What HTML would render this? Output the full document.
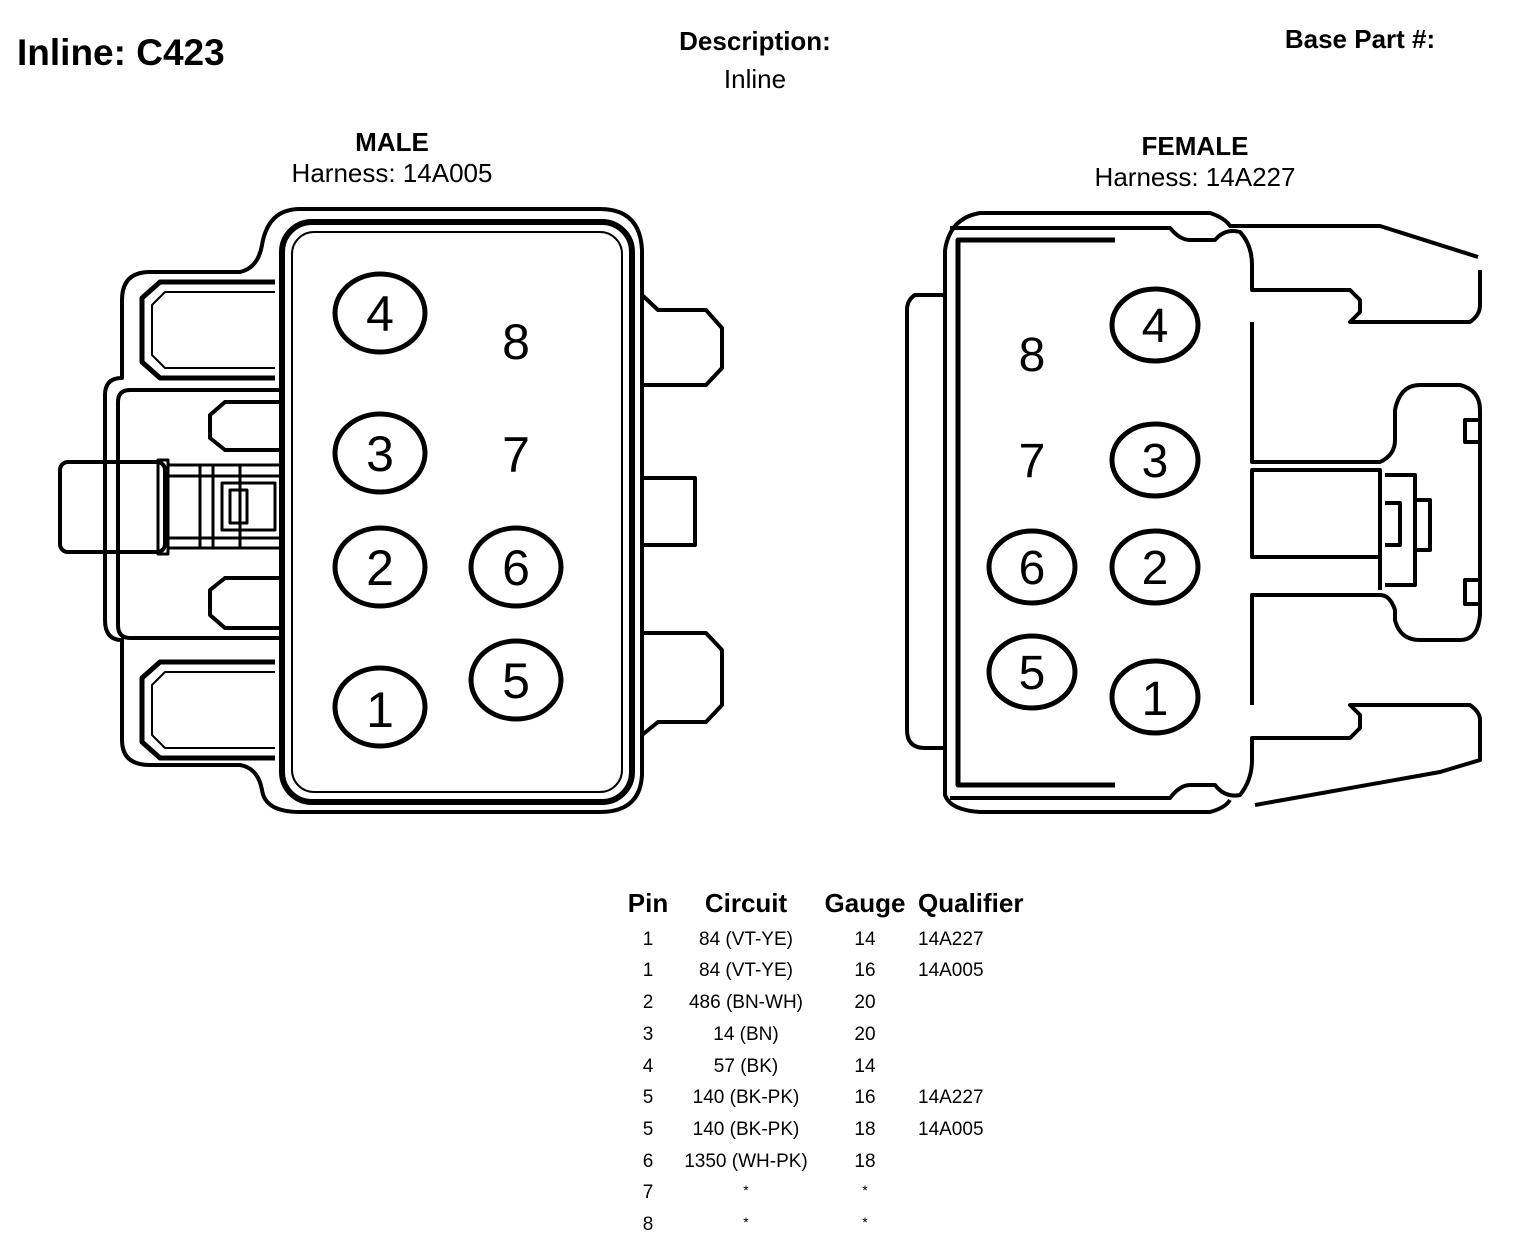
<!DOCTYPE html>
<html><head><meta charset="utf-8"><style>
body{margin:0;background:#fff;}
svg{display:block;font-family:"Liberation Sans",Arial,sans-serif;}
</style></head><body>
<svg width="1520" height="1240" viewBox="0 0 1520 1240" xmlns="http://www.w3.org/2000/svg">
<g fill="#000">
<text x="17" y="65" font-size="37" font-weight="bold">Inline: C423</text>
<text x="755" y="50" font-size="26" font-weight="bold" text-anchor="middle">Description:</text>
<text x="755" y="88" font-size="26" text-anchor="middle">Inline</text>
<text x="1360" y="48" font-size="26" font-weight="bold" text-anchor="middle">Base Part #:</text>
<text x="392" y="151" font-size="26" font-weight="bold" text-anchor="middle">MALE</text>
<text x="392" y="182" font-size="26" text-anchor="middle">Harness: 14A005</text>
<text x="1195" y="155" font-size="26" font-weight="bold" text-anchor="middle">FEMALE</text>
<text x="1195" y="186" font-size="26" text-anchor="middle">Harness: 14A227</text>
</g>

<!-- MALE -->
<g fill="none" stroke="#000" stroke-width="4" stroke-linejoin="round">
<path d="M300 209 L600 209 Q640 209 642 250 L642 775 Q640 812 600 812 L300 812 Q265 812 262 790 Q258 768 240 765 L150 765 Q122 765 122 740 L122 640 Q105 640 105 620 L105 395 Q105 378 122 378 L122 300 Q122 272 150 272 L240 272 Q258 268 262 245 Q268 209 300 209 Z"/>
<rect x="282" y="222" width="350" height="580" rx="30" stroke-width="6"/>
<rect x="292" y="232" width="330" height="560" rx="22" stroke-width="2"/>
<path d="M275 282 L160 282 L142 298 L142 362 L160 378 L275 378" stroke-width="5"/>
<path d="M275 292 L165 292 L152 305 L152 355 L165 368 L275 368" stroke-width="2"/>
<path d="M275 662 L160 662 L142 678 L142 742 L160 758 L275 758" stroke-width="5"/>
<path d="M275 672 L165 672 L152 685 L152 735 L165 748 L275 748" stroke-width="2"/>
<path d="M283 390 L130 390 Q118 390 118 402 L118 625 Q118 638 130 638 L283 638"/>
<path d="M283 402 L225 402 L210 415 L210 438 L225 450 L283 450 M283 578 L225 578 L210 590 L210 615 L225 628 L283 628"/>
<rect x="60" y="462" width="105" height="90" rx="8"/>
<rect x="158" y="460" width="10" height="94" stroke-width="3"/>
<path d="M168 465 L283 465 M168 476 L283 476 M168 538 L283 538 M168 548 L283 548 M200 465 L200 548 M213 465 L213 548 M240 465 L240 548 M222 483 L275 483 L275 530 L222 530 Z M230 490 L247 490 L247 523 L230 523 Z" stroke-width="3"/>
<path d="M642 295 L658 310 L706 310 L722 328 L722 368 L706 385 L642 385"/>
<path d="M642 478 L695 478 L695 545 L642 545"/>
<path d="M642 633 L706 633 L722 650 L722 705 L706 722 L658 722 L642 735"/>
<g stroke-width="5">
<ellipse cx="380" cy="313" rx="45" ry="39"/>
<ellipse cx="380" cy="453" rx="45" ry="39"/>
<ellipse cx="380" cy="567" rx="45" ry="39"/>
<ellipse cx="380" cy="707" rx="45" ry="39"/>
<ellipse cx="516" cy="567" rx="45" ry="39"/>
<ellipse cx="516" cy="680" rx="45" ry="39"/>
</g>
</g>
<g fill="#000" font-size="50" text-anchor="middle">
<text x="380" y="331">4</text><text x="380" y="471">3</text><text x="380" y="585">2</text><text x="380" y="727">1</text>
<text x="516" y="585">6</text><text x="516" y="698">5</text>
<text x="516" y="359">8</text><text x="516" y="472">7</text>
</g>

<!-- FEMALE -->
<g fill="none" stroke="#000" stroke-width="4" stroke-linejoin="round">
<path d="M945 250 Q950 218 980 213 L1210 213 Q1225 218 1230 226 L1380 226 L1478 257"/>
<path d="M945 250 L945 795 Q950 810 980 812 L1210 812 Q1225 808 1230 800"/>
<path d="M945 295 L915 295 Q907 300 907 310 L907 730 Q907 748 925 748 L945 748"/>
<path d="M1115 240 L958 240 L958 785 L1115 785" stroke-width="5"/>
<path d="M950 228 L1170 228 Q1180 240 1190 240 L1215 240 Q1225 228 1240 232 Q1252 245 1252 265 L1252 290 L1350 290 L1360 300 L1360 312 L1350 322 L1470 322 Q1480 315 1480 305 L1480 270"/>
<path d="M950 798 L1170 798 Q1180 785 1190 785 L1215 785 Q1225 798 1240 795 Q1252 780 1252 760 L1252 738 L1350 738 L1360 728 L1360 715 L1350 705 L1470 705 Q1480 712 1480 720 L1480 760 L1440 772 L1255 805"/>
<path d="M1252 322 L1252 462 L1380 462 Q1395 455 1395 440 L1395 410 Q1400 385 1420 385 L1460 385 Q1480 390 1480 410 L1480 615 Q1478 640 1460 640 L1420 640 Q1400 640 1395 620 L1395 610 Q1390 595 1380 595 L1252 595 L1252 705"/>
<path d="M1252 470 L1380 470 L1380 557 L1252 557 Z"/>
<path d="M1380 470 L1380 590 M1385 475 L1415 475 L1415 585 L1385 585 M1385 503 L1400 503 L1400 545 L1385 545 M1415 500 L1430 500 L1430 550 L1415 550 M1465 420 L1480 420 L1480 442 L1465 442 Z M1465 580 L1480 580 L1480 604 L1465 604 Z"/>
<g stroke-width="5">
<ellipse cx="1155" cy="325" rx="43" ry="36"/>
<ellipse cx="1155" cy="460" rx="43" ry="36"/>
<ellipse cx="1155" cy="567" rx="43" ry="36"/>
<ellipse cx="1155" cy="697" rx="43" ry="36"/>
<ellipse cx="1032" cy="567" rx="43" ry="36"/>
<ellipse cx="1032" cy="672" rx="43" ry="36"/>
</g>
</g>
<g fill="#000" font-size="48" text-anchor="middle">
<text x="1155" y="342">4</text><text x="1155" y="477">3</text><text x="1155" y="584">2</text><text x="1155" y="715">1</text>
<text x="1032" y="584">6</text><text x="1032" y="689">5</text>
<text x="1032" y="371">8</text><text x="1032" y="477">7</text>
</g>

<!-- TABLE -->
<g fill="#000" font-size="26" font-weight="bold">
<text x="648" y="912" text-anchor="middle">Pin</text>
<text x="746" y="912" text-anchor="middle">Circuit</text>
<text x="865" y="912" text-anchor="middle">Gauge</text>
<text x="918" y="912">Qualifier</text>
</g>
<g fill="#000" font-size="19">
<g text-anchor="middle">
<text x="648" y="945">1</text><text x="746" y="945">84 (VT-YE)</text><text x="865" y="945">14</text>
<text x="648" y="976">1</text><text x="746" y="976">84 (VT-YE)</text><text x="865" y="976">16</text>
<text x="648" y="1008">2</text><text x="746" y="1008">486 (BN-WH)</text><text x="865" y="1008">20</text>
<text x="648" y="1040">3</text><text x="746" y="1040">14 (BN)</text><text x="865" y="1040">20</text>
<text x="648" y="1072">4</text><text x="746" y="1072">57 (BK)</text><text x="865" y="1072">14</text>
<text x="648" y="1103">5</text><text x="746" y="1103">140 (BK-PK)</text><text x="865" y="1103">16</text>
<text x="648" y="1135">5</text><text x="746" y="1135">140 (BK-PK)</text><text x="865" y="1135">18</text>
<text x="648" y="1167">6</text><text x="746" y="1167">1350 (WH-PK)</text><text x="865" y="1167">18</text>
<text x="648" y="1198">7</text><text x="746" y="1195" font-size="14">*</text><text x="865" y="1195" font-size="14">*</text>
<text x="648" y="1230">8</text><text x="746" y="1227" font-size="14">*</text><text x="865" y="1227" font-size="14">*</text>
</g>
<text x="918" y="945">14A227</text>
<text x="918" y="976">14A005</text>
<text x="918" y="1103">14A227</text>
<text x="918" y="1135">14A005</text>
</g>
</svg>
</body></html>
